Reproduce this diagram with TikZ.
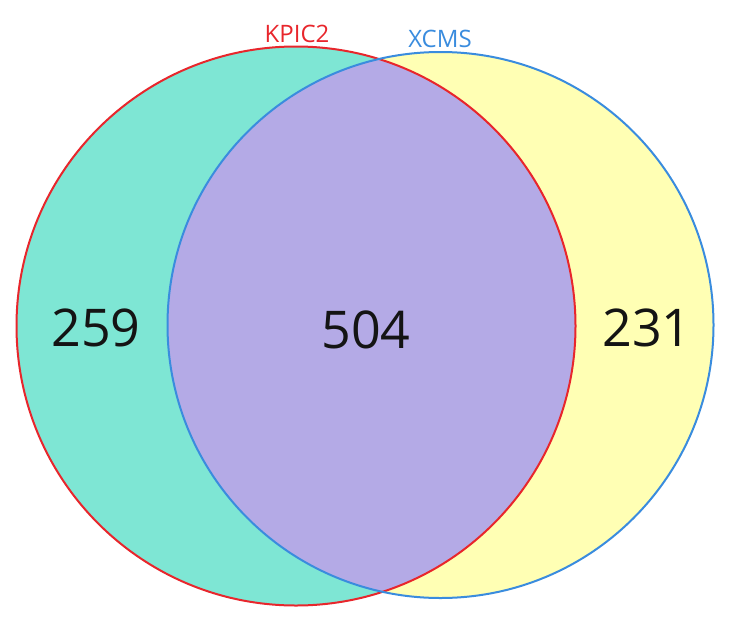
\documentclass[tikz,border=0pt]{standalone}
\usepackage{fontspec}
\setmainfont{Open Sans}
\definecolor{lfill}{RGB}{126,230,212}
\definecolor{rfill}{RGB}{255,255,180}
\definecolor{mfill}{RGB}{180,170,230}
\definecolor{redline}{RGB}{232,38,44}
\definecolor{blueline}{RGB}{58,140,222}
\definecolor{numcol}{RGB}{20,20,20}
\begin{document}
\begin{tikzpicture}[x=1pt,y=-1pt,
  count/.style={text=numcol,font=\fontsize{52}{60}\selectfont,inner sep=0pt},
  setlabel/.style={font=\fontsize{24}{28}\selectfont,inner sep=0pt}]
\useasboundingbox (0,0) rectangle (741,632);
\def\leftc{(296,326) circle[radius=279.5pt]}
\def\rightc{(440.5,325) circle[radius=273pt]}
\fill[lfill] \leftc;
\fill[rfill] \rightc;
\begin{scope}
  \clip \leftc;
  \fill[mfill] \rightc;
\end{scope}
\draw[redline,line width=2pt] \leftc;
\draw[blueline,line width=2pt] \rightc;
\node[count] (n259) at (96,328) {259};
\node[count] (n504) at (366,330) {504};
\node[count] (n231) at (647,328) {231};
\node[setlabel,text=redline] (kpic) at (297,34) {KPIC2};
\node[setlabel,text=blueline] (xcms) at (440,38.5) {XCMS};
\end{tikzpicture}
\end{document}
